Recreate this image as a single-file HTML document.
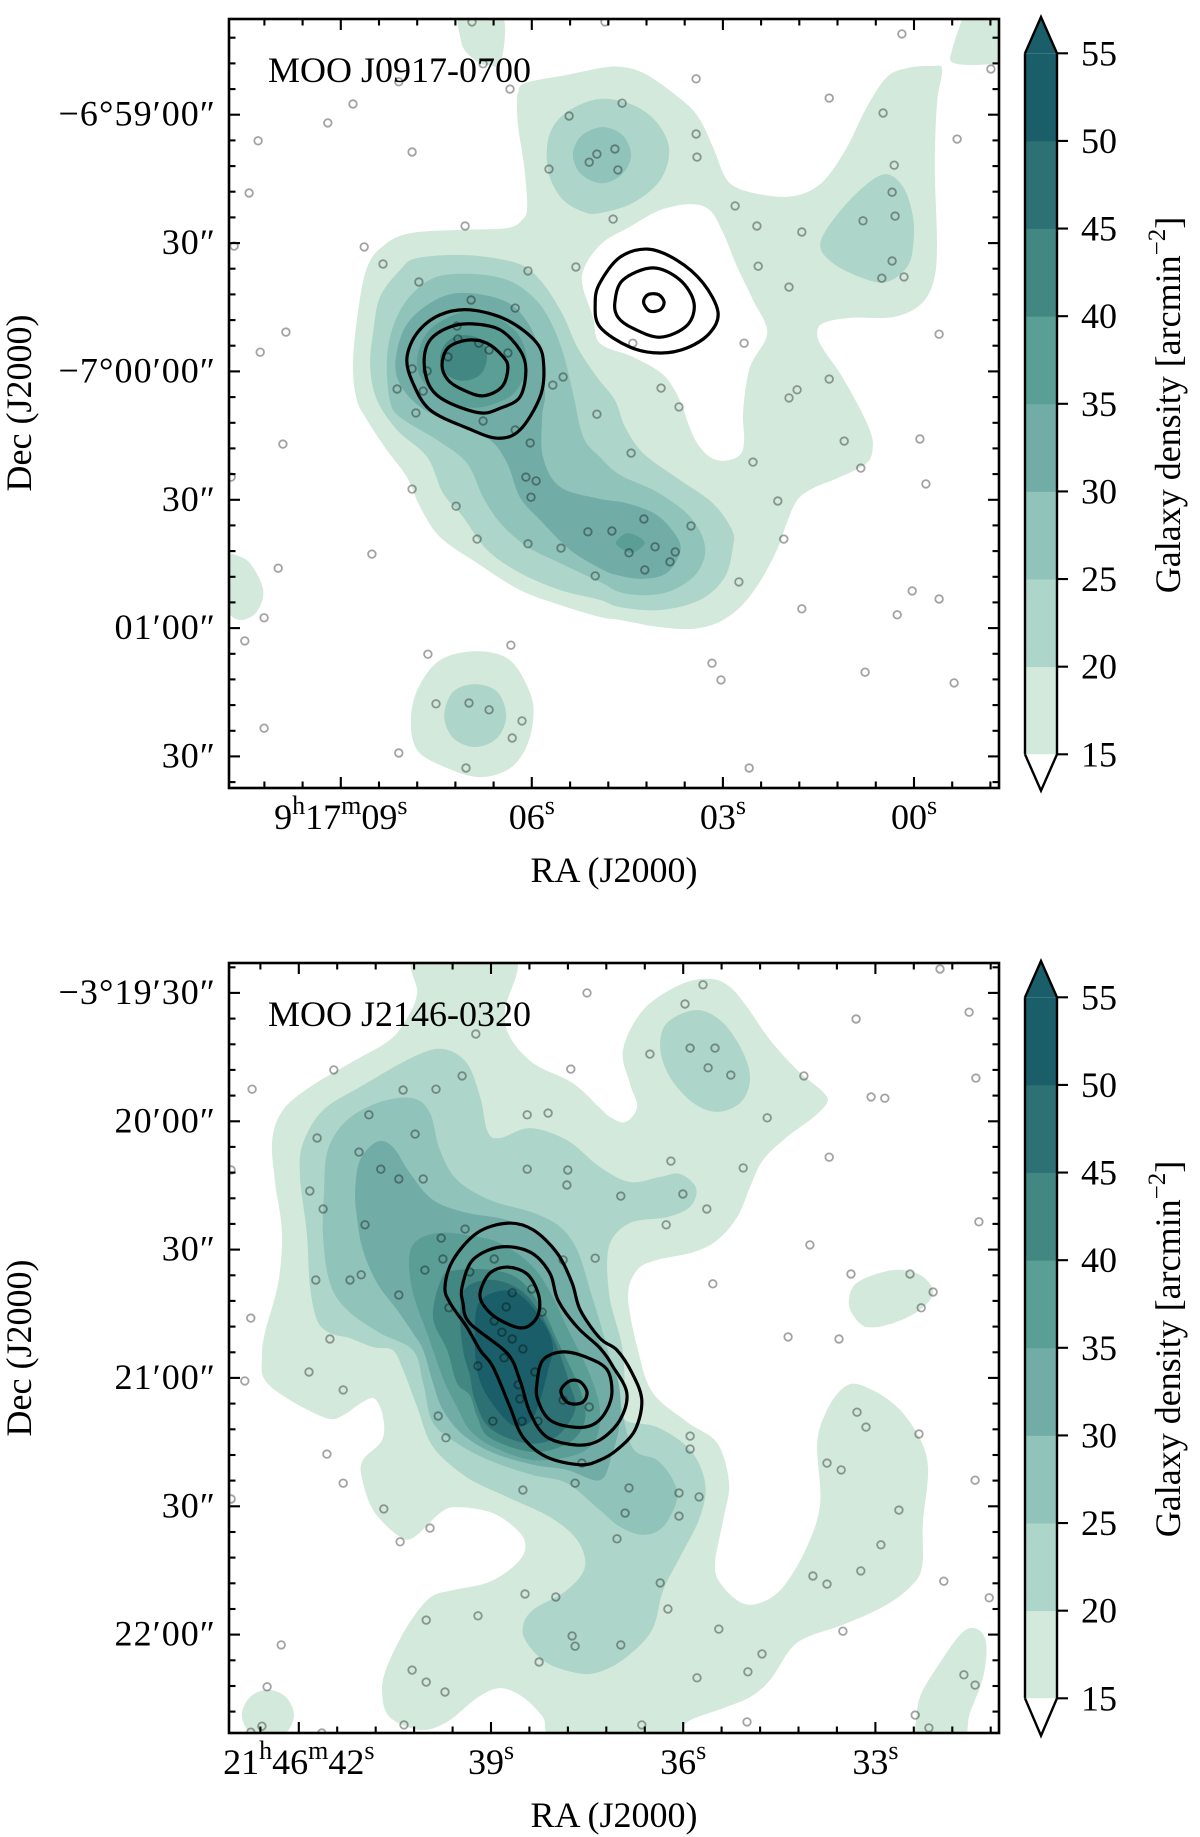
<!DOCTYPE html>
<html lang="en">
<head>
<meta charset="utf-8">
<title>Galaxy density maps of MOO J0917-0700 and MOO J2146-0320</title>
<style>
html,body{margin:0;padding:0;background:#fff;}
svg{display:block;}
text{font-family:"Liberation Serif",serif;font-size:36px;fill:#000;}
</style>
</head>
<body>
<svg id="figure" xmlns="http://www.w3.org/2000/svg" width="1200" height="1837" viewBox="0 0 1200 1837">
  <defs>
    <clipPath id="clip-top"><rect x="229" y="19" width="770" height="769"/></clipPath>
    <clipPath id="clip-bottom"><rect x="229" y="963" width="770" height="770"/></clipPath>
  </defs>
  <g id="panel-top"></g>
  <g id="panel-bottom"></g>
  <text x="268" y="82">MOO J0917-0700</text>
  <text x="268" y="1026">MOO J2146-0320</text>
  <text x="614" y="882" text-anchor="middle">RA (J2000)</text>
  <text x="614" y="1827" text-anchor="middle">RA (J2000)</text>
  <text transform="translate(31,403) rotate(-90)" text-anchor="middle">Dec (J2000)</text>
  <text transform="translate(31,1348) rotate(-90)" text-anchor="middle">Dec (J2000)</text>
  <text transform="translate(1180,405) rotate(-90)" text-anchor="middle">Galaxy density [arcmin<tspan font-size="25" dy="-15">−2</tspan><tspan dy="15">]</tspan></text>
  <text transform="translate(1180,1349) rotate(-90)" text-anchor="middle">Galaxy density [arcmin<tspan font-size="25" dy="-15">−2</tspan><tspan dy="15">]</tspan></text>
</svg>
<script>
/* All sky positions are offsets from the field centre in arcsec: +x = west (right), +y = north (up). */
const densityLevels=[15,20,25,30,35,40,45,50,55];
const densityColors=["#d3e9dc","#aed5c9","#90c3ba","#72aca6","#5a9e96","#438782","#2e7175","#195e68"];

const p1RaTicks=[9,6,3,0];
const p1RaLabels=["9h17m09s","06s","03s","00s"];
const p1DecTicks=[60,30,0,-30,-60,-90];
const p1DecLabels=["−6°59′00″","30″","−7°00′00″","30″","01′00″","30″"];
const p2RaTicks=[42,39,36,33];
const p2RaLabels=["21h46m42s","39s","36s","33s"];
const p2DecTicks=[30,0,-30,-60,-90,-120];
const p2DecLabels=["−3°19′30″","20′00″","30″","21′00″","30″","22′00″"];

/* ---------- MOO J0917-0700 density contours ---------- */
const p1L15Top=[[-35.8,90.8],[-35.8,85],[-34.6,82.2],[-31.8,79.8],[-29.2,79.1],[-26.4,79.8],[-26.2,90.8]];
const p1L15Corner=[[81.3,89.6],[79,82.6],[79,79.8],[83.9,79.1],[89.8,79.6],[92.6,80.3],[92.6,90.8],[82,90.8]];
const p1L15Left=[[-89.8,-35.4],[-88.6,-35.4],[-85.1,-37.3],[-82,-43.6],[-83.5,-48.7],[-87,-50.6],[-89.8,-49.4],[-92.1,-45.9],[-92.1,-37.8]];
const p1L15South=[[-32,-57.9],[-24.3,-60],[-19.6,-67.7],[-18.9,-74],[-20.8,-81],[-25,-85.7],[-32,-87.3],[-40.7,-84.5],[-46,-81],[-47.5,-74.7],[-46,-67],[-40.7,-60]];
const p1L20South=[[-32.5,-65.6],[-27.3,-67.4],[-25.2,-73],[-27.3,-78.2],[-32.5,-80.3],[-37.6,-78.2],[-39.7,-73],[-37.6,-67.4]];
const p1L15Main=[[-22.4,72.6],[-20.8,74.9],[-11,76.8],[-3.3,78.4],[1.4,78.7],[6.8,77.3],[13.8,72.6],[19.4,67.4],[23.1,60],[25.5,53.9],[27.6,51.1],[31.8,49.4],[39.3,48.3],[45.1,49.4],[49.8,52.9],[54.5,60],[59.1,69.3],[63.8,76.3],[68.5,78.4],[74.6,78.9],[76.7,78],[75.5,70.2],[75,55.3],[75.5,36.6],[74.6,28.2],[71.5,23],[65.2,20.2],[55.2,20],[48.9,18.8],[47.5,16.5],[48.6,13.2],[52.8,7.1],[56.8,0.1],[59.8,-6.2],[60.5,-10.2],[59.1,-13.9],[52.8,-17.2],[46.5,-19.8],[42.8,-22.6],[40.4,-27.9],[38.1,-34.2],[34.1,-41.7],[29.5,-47.6],[24.1,-51.3],[17.8,-52.7],[10.1,-52.2],[1.4,-50.6],[-3.3,-49.9],[-12.6,-47.1],[-22,-43.6],[-32,-37.3],[-40.7,-31.2],[-45.3,-24.2],[-48.4,-17.2],[-53.1,-10.9],[-57.7,-3.9],[-60.1,0.8],[-61,8.5],[-60.1,19.5],[-57.7,31.9],[-53.1,37.5],[-47,39.9],[-35.3,40.6],[-25,41],[-21.5,42.9],[-20.3,45.9],[-21,55.3],[-22.4,64.6],[-22.7,70.9]];
const p1L15Hole=[[-3.3,37],[-7.5,29.6],[-4.9,20.2],[-3.3,14.1],[4.4,10.9],[11.5,6.7],[15.4,0.8],[17.3,-4.6],[19.4,-9.2],[22.4,-12.5],[25.9,-13.4],[29.5,-12],[30.4,-8.5],[30.2,-1.5],[31.8,8.5],[35.8,16.5],[32.5,24.2],[28.8,31.9],[25.5,39.9],[22.4,45.2],[17.8,46.6],[10.8,45.2],[3.7,41.3]];
const p1L20North=[[-15.7,59.3],[-14.3,64.6],[-10.3,68.6],[-3.3,71.2],[4.4,69.8],[10.1,65.6],[12.9,59.3],[10.8,52.2],[4.4,46.9],[-3.3,44.5],[-7.2,44.8],[-11.9,47.6],[-15,52.9]];
const p1L25North=[[-9.6,58.1],[-7.7,62.5],[-2.8,64.6],[1.9,62.8],[4,58.1],[1.9,53.6],[-2.8,51.5],[-7.7,53.6]];
const p1L20East=[[48.2,37],[51.2,42.9],[57.5,49.9],[63.3,53.6],[67.6,50.6],[69.9,43.6],[69.9,36.6],[68.5,31.9],[63.8,28.4],[58.2,29.3],[51.2,32.8]];
const p1L20Main=[[-46,34],[-34.4,34.7],[-22.7,32.8],[-17.3,28.9],[-12.2,21.2],[-8.6,13.2],[-4,6.2],[0.2,0.8],[2.6,-5.5],[6.8,-11.6],[14.7,-17.4],[23.1,-23.3],[27.6,-29.6],[27.8,-33.5],[25.9,-40.6],[20.1,-45.9],[10.8,-48.3],[1.4,-47.6],[-3.3,-45.9],[-12.6,-43.6],[-22,-39.6],[-29.7,-34.2],[-35.3,-26.5],[-40,-20.9],[-43.7,-12.5],[-50.7,-6.2],[-55.4,0.8],[-57,8.5],[-56.3,16.5],[-54.7,24.9],[-50,31.2]];
const p1L25Main=[[-53.1,9.5],[-51.9,17.2],[-48.4,24.2],[-42.3,29.3],[-33.7,30.3],[-25,28.9],[-18.9,24.9],[-15,19.5],[-11.9,11.8],[-9.6,2.5],[-7.2,-7.8],[-3.3,-12.5],[1.4,-16.7],[10.1,-20.7],[17.8,-26.5],[21.3,-33.5],[19.4,-39.6],[13.8,-43.6],[7.7,-44.8],[1.4,-44.1],[-3.3,-41.7],[-12.6,-37.3],[-20.3,-33.5],[-26.6,-27.9],[-30.6,-21.9],[-34.4,-13.9],[-41.4,-8.5],[-50,-3.2],[-52.4,0.8]];
const p1L30Main=[[-50.5,5.5],[-50.7,12.5],[-47.7,19.5],[-40.7,24.7],[-33.7,25.8],[-25,23.7],[-20.1,18.8],[-17.3,11.8],[-16.1,2.5],[-16.8,-3.2],[-16.6,-12.5],[-12.6,-19.5],[-3.3,-22.3],[3,-23.3],[10.1,-26.1],[14.7,-31.2],[15.4,-34.9],[12.4,-39.6],[6.8,-41],[0.7,-40.1],[-3.3,-38.5],[-10.3,-34.2],[-17.3,-27.2],[-22,-21.9],[-25,-13.9],[-29,-8.5],[-36,-5.5],[-45.3,-0.8]];
const p1L35Main=[[-46,8.5],[-43.7,16.5],[-36,21.2],[-29,20.7],[-22.7,16.5],[-20.3,9.5],[-23.1,2.7],[-29,-0.4],[-34.8,-0.8],[-41.8,2]];
const p1L40Main=[[-40.7,10.6],[-39,14.4],[-35.3,16],[-30.9,14.8],[-29.7,10.6],[-31.3,6.7],[-35.3,5.3],[-39,6.7]];
const p1L35Lower=[[0.5,-32.4],[3.3,-30.3],[7.2,-32.4],[4.4,-34.9],[1.9,-34]];

/* ---------- MOO J0917-0700 radio contour lines ---------- */
const p1LineOuter=[[-48.4,10.6],[-46,16.5],[-40.7,20.7],[-33.7,21.9],[-25,19.5],[-18,14.1],[-16.4,8.5],[-17.3,1.5],[-22,-6.2],[-27.3,-8.1],[-34.4,-5.7],[-43,-1.5],[-47,4.8]];
const p1LineMiddle=[[-44.4,9.7],[-43,14.8],[-38.3,17.9],[-33,18.6],[-26.6,17.2],[-22,12.5],[-20.6,7.8],[-22,1.5],[-26.6,-1.1],[-31.3,-2.2],[-39,0.4],[-43,3.9]];
const p1LineInner=[[-40.2,9],[-38.8,13],[-34.4,14.8],[-29.7,14.1],[-25.9,10.9],[-24.8,8.3],[-26.2,3.9],[-30.6,1.8],[-35.3,3.2],[-38.8,5.5]];
const p1ForegroundOuter=[[-3.3,28.2],[1.4,34.2],[7.9,36.1],[14.7,33.5],[20.8,28.2],[24.3,21.4],[22.4,16.5],[17.1,13],[10.8,11.8],[3.7,13.2],[-3.3,17.9],[-4.4,23.5]];
const p1ForegroundMiddle=[[0.2,23.7],[2.1,28.9],[9.1,31.7],[15.4,28.9],[18.7,23.5],[17.1,18.3],[10.8,15.5],[4.4,17.6],[0.9,20.2]];
const p1ForegroundInner=[[7.2,24.7],[8.4,25.6],[10.5,25.4],[11.7,23.7],[10.8,21.9],[8.4,21.6],[7,23.3]];

const p1Galaxies=[[-33.2,89.2],[-30.6,79.4],[-50.3,75.2],[-24.3,73.5],[-61,70],[-66.9,65.6],[-83.2,61.4],[-47.2,58.8],[-10.5,67.2],[-4,58.3],[-5.8,56.4],[-15.2,54.8],[-85.3,49.2],[-34.8,41.5],[-88.8,36.8],[-58.4,36.6],[-54,32.6],[-45.6,28.4],[-20.1,31],[-8.9,31.9],[-33.4,24.2],[-23.1,22.3],[-76.7,16.7],[-82.7,12],[-36.7,18.1],[-36.5,15.1],[-31.6,14.1],[-29.2,12.5],[-24.8,11.8],[-38.8,10.9],[-47.2,8.1],[-43.7,7.6],[-11.9,6.2],[-14.3,4.3],[-50.7,3.4],[-44.6,2.9],[-2.1,89.2],[67.3,86.4],[88.1,78.2],[19.2,75.9],[50.3,71.4],[62.9,67.9],[1.9,70.2],[80.2,61.8],[19.2,63],[19.4,57.6],[0.2,59.5],[0.9,54.6],[65.5,55.7],[65,49.4],[65.7,43.8],[58.2,42.7],[28.3,46.2],[33.4,41.5],[43.9,40.1],[-0.2,43.1],[33.7,32.1],[40.9,27.2],[65,33.3],[62.6,29.3],[67.8,29.6],[76,16.2],[4.4,14.1],[30.4,14.1],[50.3,5.7],[42.8,3.2],[40.9,1.3],[11,3.6],[-77.4,-9.5],[-46.3,-2.2],[-30.6,-4.1],[-23.1,-6.2],[-19.6,-9.2],[-89.5,-17.2],[-20.6,-17.2],[-18.2,-18.1],[-19.4,-21.9],[-47.2,-20],[-36.9,-24],[-6.1,-30],[-4,-2.5],[-32,-31.7],[-20.1,-32.8],[-12.4,-33.8],[-56.6,-35.2],[-78.5,-38.5],[-4.4,-40.3],[-81.8,-50.1],[-86.3,-55.5],[-43.5,-58.6],[-24.1,-56.5],[-41.6,-70.2],[-33.9,-70],[-29.2,-71.6],[-21.5,-74.2],[-23.8,-78.2],[-81.8,-75.9],[-50.3,-81.7],[-34.6,-85.2],[15.2,-0.8],[4,-11.6],[32.5,-13.7],[53.8,-8.8],[57.7,-15.1],[71.5,-8.3],[72.9,-18.8],[38.3,-22.8],[7,-27],[18,-28.6],[-0.5,-29.8],[39.7,-31.7],[9.6,-33.5],[3.5,-34.9],[14.3,-34.7],[13.1,-37],[7.2,-38.9],[29.2,-41.7],[69.7,-43.8],[76,-45.7],[43.9,-48],[66.2,-49.4],[22.9,-60.7],[25,-64.6],[58.7,-62.8],[79.5,-65.3],[31.6,-85.2]];

/* ---------- MOO J2146-0320 density contours ---------- */
const p2L15Main=[[-23.6,91.9],[-46,91.9],[-46,83],[-48.2,77.4],[-52.4,72],[-61.7,66.6],[-71.1,61],[-77.4,55.6],[-79.9,48.6],[-79.2,38.6],[-77.6,26.9],[-78.5,15.2],[-81.6,3.5],[-82.3,-2.1],[-81.6,-7.5],[-75.7,-12.2],[-67.1,-16.4],[-63.3,-15.7],[-58.7,-12.6],[-55.9,-11.9],[-54,-16.1],[-54.2,-21.5],[-58.7,-26.2],[-58.9,-30.4],[-56.3,-37.9],[-50.7,-43.7],[-47,-44.4],[-40.7,-38.6],[-36.7,-37.2],[-28.3,-38.6],[-22,-43.2],[-20.8,-47.2],[-23.6,-51.2],[-29.7,-54.9],[-37.6,-56.6],[-43,-58.4],[-48.4,-65.2],[-53.1,-74.6],[-54.2,-80.6],[-52.4,-86.3],[-45.3,-89.3],[-39,-87.4],[-32,-81.8],[-26.6,-79.5],[-21.3,-81.6],[-16.6,-86.3],[-14.5,-90.9],[-0.9,-92.8],[14.3,-91.6],[17.1,-87.4],[25.5,-84.2],[31.8,-81.6],[36.5,-77.6],[41.1,-70.6],[45.1,-67.6],[53.5,-64.7],[62.9,-60.5],[69.2,-55.9],[72,-51.2],[72.2,-40.9],[73.4,-27.8],[70.8,-19.9],[65.2,-12.9],[57.5,-8.6],[53.5,-9.4],[49.8,-14.5],[47.5,-22.2],[48.2,-36.2],[45.1,-46.5],[39.5,-55.9],[34.1,-59.6],[29.5,-59.4],[24.8,-54.9],[23.6,-50.3],[25.5,-40.2],[26.9,-31.6],[24.1,-22.2],[17.1,-17.3],[9.1,-10.5],[5.6,-0.5],[3.3,11.9],[5.4,18.2],[10.1,20.6],[18.5,22.4],[24.1,25.2],[28.8,30.6],[31.8,37.6],[34.8,43.9],[40.4,49.3],[46.5,53.8],[49.8,57.3],[48.9,59.8],[42.8,65],[36.5,72],[31.1,79.7],[27.1,84.4],[22.4,86.3],[15.4,84.9],[6.8,79],[2.1,69.7],[3.7,61.9],[5.4,56.3],[2.6,52.8],[-0.9,54],[-3.3,56.1],[-9.6,61.9],[-18.9,66.6],[-24.3,72.7],[-25.5,79]];
const p2L15East=[[54.9,11.2],[57,15.4],[65.2,18.2],[71.5,17.1],[74.6,13.1],[71.5,8.9],[65.2,5.8],[59.1,4.9],[55.9,7.7]];
const p2L15SouthWest=[[-80.9,-79.9],[-76.7,-81.6],[-74.8,-85.8],[-76.7,-90],[-80.9,-91.9],[-85.1,-90],[-87,-85.8],[-85.1,-81.6]];
const p2L15SouthEast=[[70.4,-88.6],[71.5,-81.6],[75.5,-74.6],[81.3,-66.6],[84.9,-65.7],[87,-69],[86.3,-76.9],[83.2,-85.3],[80.9,-92.8],[69.2,-92.8]];
const p2L20North=[[10.8,70.1],[12.4,76],[19.4,79],[25.5,76],[30.2,69],[31.8,62.6],[29.5,57.3],[24.1,55.2],[18.5,57.3],[13.1,63.3]];
const p2L20Main=[[-73.4,40],[-72.7,47.9],[-68,55.6],[-59.4,61],[-47,68],[-40,69.9],[-34.4,66.6],[-31.3,58.7],[-29.5,50.5],[-26.6,49.1],[-19.6,51.4],[-11,48.6],[-3.3,42.3],[3.7,38.8],[10.8,40],[15.4,40.7],[19.2,37.4],[17.8,33],[12.4,30.6],[4.4,29.5],[-0.2,25.9],[-1.6,20.6],[-0.9,11.2],[1.9,0.2],[2.6,-11],[2.6,-16.8],[10.1,-18.5],[17.8,-23.8],[21.3,-31.6],[20.1,-39.5],[15.4,-48.9],[11.5,-56.6],[8.9,-65.9],[3,-72.2],[-3.3,-75.7],[-8.6,-76],[-15.7,-73.6],[-20.3,-69],[-21.3,-65.2],[-18.9,-61.2],[-11,-56.6],[-6.8,-51.2],[-8.6,-44.9],[-15,-39.5],[-25,-34.8],[-34.4,-30.2],[-42.3,-23.1],[-46,-13.8],[-49.3,-5.1],[-51.7,-0.5],[-56.3,0.2],[-61.7,2.3],[-66.4,3.5],[-69.4,6.5],[-71.1,14.7],[-71.8,26.9]];
const p2L25Main=[[-67.8,36.2],[-66.9,46.3],[-62.4,53.3],[-54.7,57.5],[-47,58.4],[-43,54.9],[-40.7,46.3],[-36.7,39.3],[-29,34.6],[-18.9,31.6],[-12.6,28.3],[-8.6,22.9],[-5.6,13.6],[-2.1,1.9],[0.9,-9.8],[4.2,-23.1],[10.1,-26.2],[13.8,-30.9],[14.7,-35.5],[11.5,-41.8],[6.8,-43.7],[1.4,-41.8],[-3.3,-37.9],[-11,-31.6],[-18.9,-29.7],[-28.3,-26.6],[-36,-22.7],[-42.3,-17.5],[-44.6,-8.2],[-47,-0.5],[-54.7,3.5],[-62.4,8.9],[-66.4,15.2],[-68,25.9]];
const p2L30Main=[[-60.5,36.9],[-59.4,43.9],[-55.4,48.2],[-51.7,47],[-47.7,40.9],[-42.3,34.6],[-34.4,31.6],[-25,29.9],[-17.3,25.9],[-11,18.9],[-8.6,11.2],[-5.6,4.9],[-3.3,1.2],[0.9,-7.5],[1.4,-16.8],[-0.5,-25],[-3.3,-30.9],[-11,-28.5],[-18.9,-27.3],[-28.3,-24.5],[-35.3,-20.3],[-40,-14.5],[-42.3,-8.2],[-44.6,-0.5],[-47,3.5],[-50.7,8.9],[-55.4,15.2],[-58.7,22.9],[-60.1,30.6]];
const p2L35Main=[[-47.9,21],[-46,25.2],[-40.7,26.9],[-34.4,26.4],[-26.6,24.5],[-18.9,18.9],[-14.3,11.9],[-11,4.9],[-5.6,-6.3],[-3.3,-14.5],[-4.4,-21.5],[-9.1,-25],[-18.9,-26.2],[-28.3,-23.1],[-33.7,-19.2],[-36.7,-13.8],[-39.5,-8.2],[-42.3,-0.5],[-43.7,3.5],[-47,12.9]];
const p2L40Main=[[-40.2,16.4],[-36.7,18.2],[-28.3,18.2],[-22,15.9],[-16.6,8.9],[-13.3,1.9],[-7.9,-9.8],[-6.8,-16.8],[-10.3,-22],[-18.9,-24.3],[-29,-21],[-32,-16],[-33.7,-11],[-36.7,-8.2],[-39,-0.5],[-42.3,7.2]];
const p2L45Main=[[-36,8.9],[-34.4,14.3],[-28.3,15.9],[-22,13.6],[-17.3,8.2],[-13.3,0.2],[-10.3,-8.6],[-9.1,-14.5],[-13.8,-21],[-20.8,-22.2],[-29,-18.7],[-32.5,-12.2],[-33.7,-6.3],[-35.3,-0.5]];
const p2L50Main=[[-32,9.6],[-28.3,12.9],[-22.7,12.9],[-17.3,7.2],[-14.3,0.7],[-15.4,-5.1],[-17.3,-12.2],[-19.6,-17.3],[-23.8,-18],[-29,-12.2],[-31.8,-6.3],[-32.5,0.7]];

/* ---------- MOO J2146-0320 radio contour lines ---------- */
const p2LineOuter=[[-39.5,14.3],[-37.6,20.6],[-32,26.9],[-24.8,29.2],[-18.9,27.6],[-13.3,22.2],[-9.8,15.2],[-7.9,8.9],[-3.3,2.3],[0.7,-0.5],[4.2,-5.8],[6.5,-12.2],[4.9,-19.2],[0.7,-23.8],[-3.3,-26.2],[-7.9,-27.3],[-15.7,-25.5],[-21.3,-20.8],[-24.3,-13.8],[-28.3,-4.4],[-31.3,-0.5],[-34.4,4.9],[-38.3,10.5]];
const p2LineMiddle=[[-35.5,14.3],[-33,20.6],[-26.6,23.6],[-19.6,22.4],[-15,17.5],[-13.1,11.2],[-8.6,4.9],[-3.3,0],[-0.2,-4.4],[3,-10.5],[1.4,-16.8],[-3.3,-21.5],[-8.6,-22.7],[-15.7,-20.8],[-19.6,-15.2],[-22,-7.5],[-25,-1.2],[-33.7,5.8],[-35.3,10.5]];
const p2LineInnerNorth=[[-31.3,12.9],[-29,17.5],[-24.8,18.9],[-20.1,17.1],[-17.5,11.9],[-18,7.2],[-21.3,4.7],[-26.6,6.5],[-30.2,9.6]];
const p2LineInnerSouth=[[-18,-8.2],[-16.6,-2.8],[-11.9,-0.9],[-6.1,-2.3],[-1.6,-5.1],[-0.5,-10.5],[-2.1,-15.2],[-5.1,-18],[-9.6,-18.5],[-15,-16.8],[-17.8,-12.2]];
const p2LinePeak=[[-12.4,-9.8],[-10.3,-7.7],[-7.9,-7.9],[-6.3,-10.3],[-7.2,-12.6],[-9.6,-13.1],[-11.5,-12.2]];

const p2Galaxies=[[-6.3,83],[-32.3,73.4],[-65.5,65],[-10.1,65.2],[-84.6,60.5],[-49.3,60.3],[-41.6,60.5],[-35.5,63.6],[-20.3,54.5],[-15.4,54.9],[-57.3,54.5],[-69.4,49.1],[-46.5,50],[-59.6,45.8],[-20.3,41.8],[-10.8,41.6],[-11,38.1],[-54.5,41.8],[-50.3,39.5],[-44.6,39.5],[-89.5,41.6],[-71.1,36.7],[-68,32.5],[-58.2,28.8],[-34.8,27.8],[-40.4,25.7],[-4.4,21],[-40,20.8],[-28,20.8],[-11.9,20.6],[-44.2,18.2],[-33.7,17.8],[-69.7,15.9],[-61.7,15.9],[-59.1,17.1],[-50.3,12.4],[-23.8,12.9],[-19.2,13.8],[-25.2,9.6],[-38.6,9.4],[-16.8,8.4],[-84.9,7],[-28,6.3],[-26.2,3.7],[-23.8,2.1],[-66.4,2.1],[-21.3,-0.2],[76.2,88.6],[20.8,84.9],[16.6,80.4],[83,78.5],[56.6,76.9],[17.8,70.1],[23.6,70.1],[8.4,68.7],[22,65.5],[27.3,63.8],[44.4,63.6],[84.6,63.1],[60.1,58.7],[63.3,58.4],[35.8,53.8],[50.3,44.6],[13.3,43.7],[30.2,42.1],[1.6,35.5],[16.1,36],[21.7,32.5],[12.2,28.8],[85.3,29.5],[45.8,24.1],[55.4,17.3],[69.2,17.3],[23.1,15],[74.6,13.1],[71.8,9.4],[40.7,2.6],[52.6,2.1],[-86.3,-7.7],[-71.3,-5.6],[-63.3,-9.8],[-31.8,-4.2],[-25.7,-2.3],[-18.5,-5.6],[-22.4,-8.6],[-22,-11.9],[-11.9,-12.2],[-5.8,-13.8],[-41.1,-15.9],[-28.3,-17.1],[-21.5,-17.1],[-17.8,-17.1],[-39.3,-21],[-67.1,-24.8],[-7.5,-26.9],[-63.3,-31.6],[-9.1,-31.6],[-21.3,-33.2],[-89.5,-35.3],[-53.8,-37.6],[-43,-42.1],[-50,-45.3],[-20.8,-57.5],[-13.6,-58.2],[-43.9,-63.6],[-31.8,-62.6],[-77.8,-69.4],[-9.8,-67.3],[-9.1,-69.7],[-17.5,-73.4],[-47.2,-75.3],[-43.9,-78.1],[-39.5,-80.4],[-81.1,-79.2],[-82.3,-88.4],[-84.9,-89.8],[-49.1,-88.1],[-68.3,-90],[17.8,-20.6],[17.8,-23.6],[3.5,-32.7],[15.2,-33.9],[19.9,-34.8],[2.6,-38.6],[15.2,-39.3],[0.7,-44.6],[10.8,-54.9],[12.6,-61],[24.5,-65.7],[1.6,-69.4],[34.6,-71.5],[31.3,-75.7],[19.4,-77.1],[6.5,-88.1],[31.1,-87.4],[56.8,-15],[58.9,-18.5],[71.3,-20.1],[49.8,-26.9],[53.1,-28.5],[84.4,-30.9],[66.6,-37.9],[62.4,-46],[46.5,-53.3],[49.8,-55.2],[57.7,-52.1],[77.1,-54.5],[87.7,-58.4],[53.5,-66.2],[81.8,-76.4],[84.4,-78.8],[70.4,-85.8],[73.6,-88.8]];

const SVG_NS='http://www.w3.org/2000/svg';
const PX_PER_ARCSEC=4.278;
const AXIS_LEFT=229, AXIS_RIGHT=999, AXIS_CX=614;

function el(tag,attrs,parent){
  const node=document.createElementNS(SVG_NS,tag);
  for(const k in attrs){node.setAttribute(k,attrs[k]);}
  parent.appendChild(node);
  return node;
}
function smoothClosed(points,xs,ys){
  const n=points.length;
  const p=points.map(q=>[xs(q[0]),ys(q[1])]);
  let d='M'+p[0][0].toFixed(1)+' '+p[0][1].toFixed(1);
  for(let i=0;i<n;i++){
    const p0=p[(i-1+n)%n],p1=p[i],p2=p[(i+1)%n],p3=p[(i+2)%n];
    const c1x=p1[0]+(p2[0]-p0[0])/6,c1y=p1[1]+(p2[1]-p0[1])/6;
    const c2x=p2[0]-(p3[0]-p1[0])/6,c2y=p2[1]-(p3[1]-p1[1])/6;
    d+='C'+c1x.toFixed(1)+' '+c1y.toFixed(1)+' '+c2x.toFixed(1)+' '+c2y.toFixed(1)+' '+p2[0].toFixed(1)+' '+p2[1].toFixed(1);
  }
  return d+'Z';
}
function writeSuperLabel(textNode,label){
  const parts=label.split(/([hms])/).filter(s=>s.length);
  let raised=false;
  parts.forEach(part=>{
    const span=el('tspan',{},textNode);
    const isSup=/^[hms]$/.test(part);
    if(isSup){span.setAttribute('font-size','26');span.setAttribute('dy','-15');raised=true;}
    else if(raised){span.setAttribute('dy','15');raised=false;}
    span.textContent=part;
  });
}
function drawPanel(cfg){
  const root=document.getElementById(cfg.rootId);
  const top=cfg.top,bottom=cfg.bottom;
  const xScale=a=>AXIS_CX+a*PX_PER_ARCSEC;
  const yScale=a=>cfg.cy-a*PX_PER_ARCSEC;
  const raX=sec=>xScale((cfg.raCentre-sec)*cfg.arcsecPerSecond);
  const decY=d=>yScale(d+cfg.decShift);

  const fills=el('g',{'clip-path':'url(#'+cfg.clipId+')'},root);
  
  
  cfg.regions.forEach(r=>{
    let d=smoothClosed(r.shape,xScale,yScale);
    if(r.hole){d+=smoothClosed(r.hole,xScale,yScale);}
    const path=el('path',{d:d,fill:densityColors[densityLevels.indexOf(r.level)],'fill-rule':'evenodd'},fills);
    
    
  });

  const dots=el('g',{'clip-path':'url(#'+cfg.clipId+')',fill:'none',stroke:'#000','stroke-opacity':'0.36','stroke-width':'1.8'},root);
  
  
  cfg.galaxies.forEach(g=>{
    const c=el('circle',{cx:xScale(g[0]).toFixed(1),cy:yScale(g[1]).toFixed(1),r:'3.8'},dots);
    
    
  });

  const lines=el('g',{'clip-path':'url(#'+cfg.clipId+')',fill:'none',stroke:'#000','stroke-width':'3.2'},root);
  
  
  cfg.lines.forEach(shape=>{
    const path=el('path',{d:smoothClosed(shape,xScale,yScale)},lines);
    
    
  });

  const frame=el('rect',{x:AXIS_LEFT,y:top,width:AXIS_RIGHT-AXIS_LEFT,height:bottom-top,fill:'none',stroke:'#000','stroke-width':'2.6'},root);
  
  

  const ticks=el('g',{stroke:'#000','stroke-width':'2.1'},root);
  
  
  const tick=(x1,y1,x2,y2)=>el('line',{x1:x1.toFixed(1),y1:y1.toFixed(1),x2:x2.toFixed(1),y2:y2.toFixed(1)},ticks);
  for(let k=-10;k<=40;k++){
    const x=raX(cfg.raTicks[0]-k*0.6);
    if(x<=AXIS_LEFT+2||x>=AXIS_RIGHT-2)continue;
    const len=(k%5===0)?11:6.5;
    tick(x,bottom,x,bottom-len);
    tick(x,top,x,top+len);
  }
  for(let k=-10;k<=40;k++){
    const y=decY(cfg.decTicks[0]-k*6);
    if(y<=top+2||y>=bottom-2)continue;
    const len=(k%5===0)?11:6.5;
    tick(AXIS_LEFT,y,AXIS_LEFT+len,y);
    tick(AXIS_RIGHT,y,AXIS_RIGHT-len,y);
  }

  cfg.raTicks.forEach((sec,i)=>{
    const t=el('text',{x:raX(sec).toFixed(1),y:bottom+41,'text-anchor':'middle'},root);
    
    
    writeSuperLabel(t,cfg.raLabels[i]);
  });
  cfg.decTicks.forEach((d,i)=>{
    const t=el('text',{x:216,y:(decY(d)+11).toFixed(1),'text-anchor':'end','letter-spacing':'1.1'},root);
    
    
    t.textContent=cfg.decLabels[i];
  });

  /* colour bar */
  const cbLeft=1025,cbRight=1057,cbMid=1041;
  const cbY=v=>top+735.3-(v-15)*17.525;
  const bar=el('g',{},root);
  
  
  densityColors.forEach((color,i)=>{
    const r=el('rect',{x:cbLeft,y:cbY(densityLevels[i+1]),width:cbRight-cbLeft,height:cbY(densityLevels[i])-cbY(densityLevels[i+1])+0.4,fill:color},bar);
    
    
  });
  const upper=el('polyline',{points:cbLeft+','+cbY(55)+' '+cbMid+','+(top-2)+' '+cbRight+','+cbY(55),fill:densityColors[7],stroke:'#000','stroke-width':'2.4'},bar);
  
  
  const lower=el('polyline',{points:cbLeft+','+cbY(15)+' '+cbMid+','+(bottom+2.7)+' '+cbRight+','+cbY(15),fill:'#fff',stroke:'#000','stroke-width':'2.4'},bar);
  
  
  const leftEdge=el('line',{x1:cbLeft,y1:cbY(55),x2:cbLeft,y2:cbY(15),stroke:'#000','stroke-width':'2.4'},bar);
  
  
  const rightEdge=el('line',{x1:cbRight,y1:cbY(55),x2:cbRight,y2:cbY(15),stroke:'#000','stroke-width':'2.4'},bar);
  
  
  densityLevels.forEach(v=>{
    const l=el('line',{x1:cbRight,y1:cbY(v),x2:cbRight+11,y2:cbY(v),stroke:'#000','stroke-width':'2.1'},bar);
    
    
    const t=el('text',{x:1081,y:(cbY(v)+12).toFixed(1)},bar);
    
    
    t.textContent=String(v);
  });
}

drawPanel({
  rootId:'panel-top',clipId:'clip-top',top:19,bottom:788,cy:403.5,
  raCentre:4.71,arcsecPerSecond:14.887,decShift:7.5,
  raTicks:p1RaTicks,raLabels:p1RaLabels,decTicks:p1DecTicks,decLabels:p1DecLabels,
  regions:[
    {level:15,shape:p1L15Top},{level:15,shape:p1L15Corner},{level:15,shape:p1L15Left},{level:15,shape:p1L15South},
    {level:15,shape:p1L15Main,hole:p1L15Hole},
    {level:20,shape:p1L20South},{level:20,shape:p1L20North},{level:20,shape:p1L20East},{level:20,shape:p1L20Main},
    {level:25,shape:p1L25North},{level:25,shape:p1L25Main},{level:30,shape:p1L30Main},
    {level:35,shape:p1L35Main},{level:35,shape:p1L35Lower},{level:40,shape:p1L40Main}
  ],
  galaxies:p1Galaxies,
  lines:[p1LineOuter,p1LineMiddle,p1LineInner,p1ForegroundOuter,p1ForegroundMiddle,p1ForegroundInner]
});
drawPanel({
  rootId:'panel-bottom',clipId:'clip-bottom',top:963,bottom:1733,cy:1348,
  raCentre:37.08,arcsecPerSecond:14.975,decShift:53,
  raTicks:p2RaTicks,raLabels:p2RaLabels,decTicks:p2DecTicks,decLabels:p2DecLabels,
  regions:[
    {level:15,shape:p2L15Main},{level:15,shape:p2L15East},{level:15,shape:p2L15SouthWest},{level:15,shape:p2L15SouthEast},
    {level:20,shape:p2L20North},{level:20,shape:p2L20Main},{level:25,shape:p2L25Main},{level:30,shape:p2L30Main},
    {level:35,shape:p2L35Main},{level:40,shape:p2L40Main},{level:45,shape:p2L45Main},{level:50,shape:p2L50Main}
  ],
  galaxies:p2Galaxies,
  lines:[p2LineOuter,p2LineMiddle,p2LineInnerNorth,p2LineInnerSouth,p2LinePeak]
});
</script>
</body>
</html>
